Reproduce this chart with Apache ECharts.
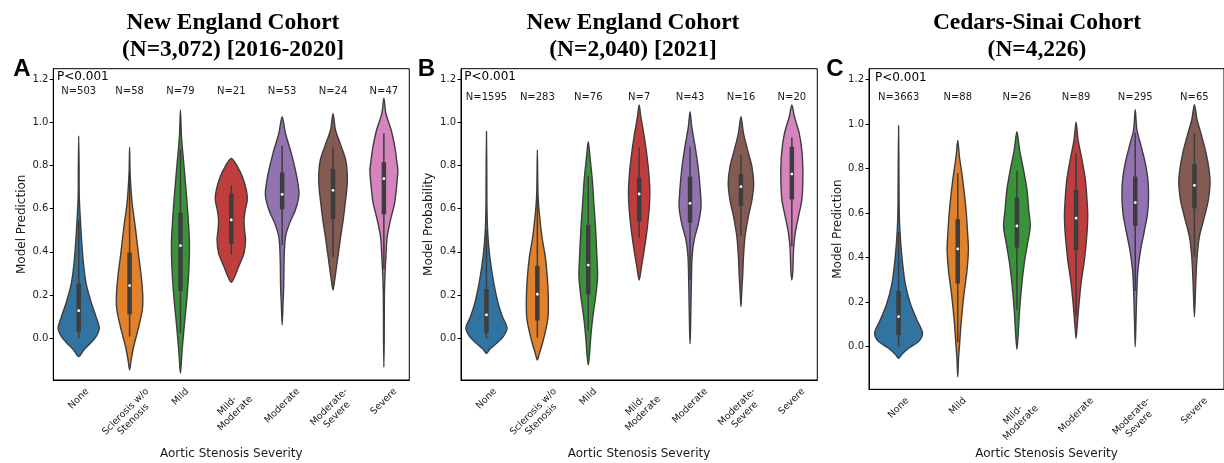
<!DOCTYPE html>
<html>
<head>
<meta charset="utf-8">
<script src="https://cdn.jsdelivr.net/npm/echarts@6.0.0/dist/echarts.min.js"></script>
<style>
  html, body { margin: 0; padding: 0; background: #fff; }
  #main { width: 1224px; height: 463px; }
</style>
</head>
<body>
<div id="main"></div>
<script>
// ---- data ----
const yTicks = [0, 0.2, 0.4, 0.6, 0.8, 1.0, 1.2];

const catsAB = ['None', 'Sclerosis w/o\nStenosis', 'Mild', 'Mild-\nModerate', 'Moderate', 'Moderate-\nSevere', 'Severe'];
const catsC = ['None', 'Mild', 'Mild-\nModerate', 'Moderate', 'Moderate-\nSevere', 'Severe'];

const countsA = [503, 58, 79, 21, 53, 24, 47];
const countsB = [1595, 283, 76, 7, 43, 16, 20];
const countsC = [3663, 88, 26, 89, 295, 65];

// inner box: [lower whisker, q1, median, q3, upper whisker]
const boxA = [
  [0.0, 0.031, 0.128, 0.254, 0.55],
  [0.008, 0.111, 0.244, 0.397, 0.75],
  [0.024, 0.219, 0.429, 0.581, 0.876],
  [0.386, 0.437, 0.548, 0.671, 0.709],
  [0.432, 0.597, 0.666, 0.768, 0.89],
  [0.378, 0.552, 0.685, 0.784, 0.884],
  [0.321, 0.574, 0.739, 0.815, 0.949]
];
const boxB = [
  [0.0, 0.026, 0.108, 0.228, 0.5],
  [0.003, 0.082, 0.204, 0.335, 0.65],
  [0.035, 0.204, 0.339, 0.525, 0.751],
  [0.466, 0.54, 0.668, 0.745, 0.883],
  [0.27, 0.535, 0.625, 0.748, 0.887],
  [0.474, 0.612, 0.702, 0.76, 0.849],
  [0.424, 0.643, 0.76, 0.887, 0.93]
];
const boxC = [
  [0.0, 0.052, 0.135, 0.25, 0.516],
  [0.02, 0.284, 0.439, 0.572, 0.779],
  [0.165, 0.446, 0.542, 0.669, 0.79],
  [0.135, 0.434, 0.577, 0.704, 0.869],
  [0.25, 0.542, 0.647, 0.764, 0.96],
  [0.404, 0.621, 0.724, 0.82, 0.959]
];

// violin outlines: [value, half width as share of the category band], top to bottom
const densityA = [
  [[0.937, 0], [0.8, 0.007], [0.66, 0.01], [0.547, 0.033], [0.378, 0.08], [0.254, 0.145], [0.162, 0.25], [0.1, 0.34], [0.046, 0.405], [0.008, 0.34], [-0.023, 0.23], [-0.054, 0.1], [-0.085, 0]],
  [[0.884, 0], [0.78, 0.008], [0.7, 0.025], [0.625, 0.05], [0.5, 0.12], [0.378, 0.18], [0.285, 0.23], [0.193, 0.26], [0.131, 0.25], [0.039, 0.165], [-0.038, 0.08], [-0.1, 0.03], [-0.147, 0]],
  [[1.057, 0], [0.933, 0.02], [0.81, 0.065], [0.686, 0.11], [0.563, 0.15], [0.44, 0.177], [0.316, 0.165], [0.193, 0.13], [0.07, 0.08], [-0.054, 0.033], [-0.162, 0]],
  [[0.833, 0], [0.795, 0.12], [0.749, 0.216], [0.687, 0.295], [0.641, 0.315], [0.594, 0.275], [0.548, 0.25], [0.502, 0.26], [0.456, 0.28], [0.394, 0.25], [0.332, 0.145], [0.285, 0.065], [0.259, 0]],
  [[1.026, 0], [0.949, 0.065], [0.856, 0.18], [0.779, 0.26], [0.717, 0.31], [0.663, 0.33], [0.594, 0.26], [0.532, 0.145], [0.47, 0.065], [0.378, 0.04], [0.239, 0.03], [0.162, 0.017], [0.062, 0]],
  [[1.04, 0], [0.963, 0.05], [0.886, 0.165], [0.825, 0.25], [0.763, 0.28], [0.702, 0.275], [0.625, 0.24], [0.548, 0.2], [0.47, 0.15], [0.393, 0.105], [0.316, 0.06], [0.27, 0.033], [0.224, 0]],
  [[1.111, 0], [1.041, 0.04], [0.963, 0.145], [0.886, 0.215], [0.809, 0.26], [0.779, 0.275], [0.702, 0.25], [0.625, 0.21], [0.548, 0.13], [0.47, 0.065], [0.378, 0.04], [0.285, 0.02], [0.2, 0.01], [0.0, 0.007], [-0.134, 0]]
];
const densityB = [
  [[0.957, 0], [0.75, 0.007], [0.6, 0.01], [0.486, 0.026], [0.378, 0.065], [0.254, 0.145], [0.162, 0.23], [0.1, 0.315], [0.046, 0.405], [0.008, 0.33], [-0.023, 0.2], [-0.051, 0.065], [-0.07, 0]],
  [[0.872, 0], [0.72, 0.008], [0.656, 0.015], [0.594, 0.033], [0.47, 0.09], [0.378, 0.155], [0.285, 0.195], [0.193, 0.215], [0.1, 0.21], [0.039, 0.165], [-0.023, 0.1], [-0.07, 0.04], [-0.1, 0]],
  [[0.91, 0], [0.841, 0.033], [0.733, 0.08], [0.625, 0.11], [0.502, 0.145], [0.378, 0.17], [0.285, 0.183], [0.193, 0.145], [0.1, 0.09], [0.008, 0.05], [-0.07, 0.026], [-0.124, 0]],
  [[1.08, 0], [1.026, 0.033], [0.934, 0.1], [0.841, 0.155], [0.749, 0.195], [0.671, 0.21], [0.594, 0.195], [0.502, 0.155], [0.409, 0.1], [0.332, 0.046], [0.27, 0]],
  [[1.049, 0], [0.98, 0.033], [0.887, 0.1], [0.779, 0.165], [0.687, 0.2], [0.61, 0.215], [0.532, 0.165], [0.455, 0.08], [0.378, 0.04], [0.254, 0.026], [0.131, 0.016], [0.03, 0.008], [-0.026, 0]],
  [[1.026, 0], [0.949, 0.05], [0.872, 0.13], [0.795, 0.215], [0.717, 0.25], [0.64, 0.215], [0.563, 0.145], [0.47, 0.08], [0.378, 0.05], [0.285, 0.033], [0.208, 0.014], [0.147, 0]],
  [[1.08, 0], [1.026, 0.05], [0.949, 0.145], [0.872, 0.195], [0.795, 0.215], [0.717, 0.215], [0.64, 0.195], [0.563, 0.13], [0.486, 0.065], [0.409, 0.033], [0.316, 0.02], [0.27, 0]]
];
const densityC = [
  [[0.992, 0], [0.75, 0.007], [0.629, 0.01], [0.524, 0.022], [0.404, 0.056], [0.284, 0.112], [0.195, 0.197], [0.12, 0.31], [0.06, 0.405], [0.023, 0.337], [-0.007, 0.17], [-0.037, 0.045], [-0.052, 0]],
  [[0.926, 0], [0.854, 0.028], [0.749, 0.084], [0.614, 0.14], [0.494, 0.17], [0.434, 0.18], [0.344, 0.157], [0.225, 0.1], [0.105, 0.056], [0.0, 0.028], [-0.06, 0.012], [-0.135, 0]],
  [[0.965, 0], [0.884, 0.045], [0.794, 0.112], [0.704, 0.17], [0.614, 0.2], [0.539, 0.225], [0.464, 0.18], [0.374, 0.124], [0.284, 0.084], [0.164, 0.045], [0.06, 0.022], [-0.012, 0]],
  [[1.008, 0], [0.929, 0.034], [0.839, 0.1], [0.749, 0.157], [0.659, 0.185], [0.584, 0.197], [0.494, 0.18], [0.389, 0.14], [0.284, 0.084], [0.18, 0.045], [0.105, 0.022], [0.038, 0]],
  [[1.064, 0], [0.974, 0.028], [0.899, 0.1], [0.824, 0.17], [0.749, 0.214], [0.674, 0.225], [0.599, 0.208], [0.524, 0.157], [0.434, 0.09], [0.344, 0.045], [0.255, 0.028], [0.135, 0.014], [0.0, 0]],
  [[1.086, 0], [1.019, 0.045], [0.944, 0.124], [0.869, 0.197], [0.794, 0.247], [0.734, 0.264], [0.659, 0.236], [0.584, 0.17], [0.494, 0.084], [0.404, 0.045], [0.284, 0.022], [0.135, 0]]
];

const palette = ['#3274a1', '#e1812c', '#3a923a', '#c03d3e', '#9372b2', '#845b53', '#d684bd'];
const edge = '#3d3d3d';
const ink = '#1a1a1a';
const sans = '"DejaVu Sans", sans-serif';

const panels = [
  { cats: catsAB, counts: countsA, box: boxA, density: densityA, nAt: 1.1435, yMin: -0.193, yMax: 1.248,
    grid: { left: 53.3, top: 68.7, width: 356, height: 311.3 } },
  { cats: catsAB, counts: countsB, box: boxB, density: densityB, nAt: 1.114, yMin: -0.193, yMax: 1.248,
    grid: { left: 461, top: 68.7, width: 356.3, height: 311.3 } },
  { cats: catsC, counts: countsC, box: boxC, density: densityC, nAt: 1.12, yMin: -0.191, yMax: 1.248,
    grid: { left: 869, top: 68.7, width: 355, height: 320.6 } }
];

// text measuring for the rotated tick labels (matplotlib-style centred box)
const measureCtx = document.createElement('canvas').getContext('2d');
const tickFont = 9.5, tickLine = 11;
measureCtx.font = tickFont + 'px "DejaVu Sans"';

function makeRender(p) {
  return function (params, api) {
    const i = api.value(0);
    const band = api.size([1, 0])[0];
    const cx = api.coord([i, 0])[0];
    const prof = p.density[i];
    const right = [], left = [];
    prof.forEach(function (d) {
      const y = api.coord([i, d[0]])[1];
      right.push([cx + d[1] * band, y]);
      left.push([cx - d[1] * band, y]);
    });
    const pts = right.concat(left.slice(1, -1).reverse());
    const b = p.box[i].map(function (v) { return api.coord([i, v])[1]; });

    const cs = params.coordSys;
    const lines = p.cats[i].split('\n');
    const w = Math.max.apply(null, lines.map(function (s) { return measureCtx.measureText(s).width; }));
    const h = lines.length * tickLine;
    const rotH = (w + h) * Math.SQRT1_2;
    const labelY = cs.y + cs.height + 6 + rotH / 2;

    return {
      type: 'group',
      children: [
        { type: 'polygon', shape: { points: pts, smooth: 0.3 },
          style: { fill: palette[i], stroke: edge, lineWidth: 1.4 } },
        { type: 'line', shape: { x1: cx, y1: b[0], x2: cx, y2: b[4] },
          style: { stroke: edge, lineWidth: 1.5 } },
        { type: 'line', shape: { x1: cx, y1: b[1], x2: cx, y2: b[3] },
          style: { stroke: edge, lineWidth: 4.5, lineCap: 'butt' } },
        { type: 'circle', shape: { cx: cx, cy: b[2], r: 1.4 }, style: { fill: '#fff' } },
        { type: 'text', x: cx, y: api.coord([i, p.nAt])[1],
          style: { text: 'N=' + p.counts[i], fontSize: 10, fontFamily: sans, fill: ink,
                   align: 'center', verticalAlign: 'middle' } },
        { type: 'text', x: cx, y: labelY, rotation: Math.PI / 4,
          style: { text: p.cats[i], fontSize: tickFont, lineHeight: tickLine, fontFamily: sans,
                   fill: ink, align: 'center', verticalAlign: 'middle' } }
      ]
    };
  };
}

const chart = echarts.init(document.getElementById('main'));

const titles = [
  { x: 233, text: 'New England Cohort\n(N=3,072) [2016-2020]' },
  { x: 633, text: 'New England Cohort\n(N=2,040) [2021]' },
  { x: 1037, text: 'Cedars-Sinai Cohort\n(N=4,226)' }
];
const letters = [{ x: 22, t: 'A' }, { x: 426.5, t: 'B' }, { x: 835, t: 'C' }];
const yNames = [
  { x: 21.5, y: 224.3, t: 'Model Prediction' },
  { x: 428.5, y: 224.3, t: 'Model Probability' },
  { x: 837.5, y: 229, t: 'Model Prediction' }
];
const xNames = [{ x: 231.3, y: 453.5 }, { x: 639, y: 453.5 }, { x: 1046.5, y: 453.5 }];
const pPos = [{ x: 57, y: 76.7 }, { x: 464.3, y: 76.7 }, { x: 875, y: 77.7 }];

const graphic = [];
titles.forEach(function (t) {
  graphic.push({ type: 'text', x: t.x, y: 36.5,
    style: { text: t.text, fontSize: 23.5, lineHeight: 27, fontWeight: 'bold', fontFamily: '"Liberation Serif", serif',
             fill: '#000', align: 'center', verticalAlign: 'middle' } });
});
letters.forEach(function (l) {
  graphic.push({ type: 'text', x: l.x, y: 69.5,
    style: { text: l.t, fontSize: 24, fontWeight: 'bold', fontFamily: '"Liberation Sans", sans-serif',
             fill: '#000', align: 'center', verticalAlign: 'middle' } });
});
yNames.forEach(function (n) {
  graphic.push({ type: 'text', x: n.x, y: n.y, rotation: Math.PI / 2,
    style: { text: n.t, fontSize: 12, fontFamily: sans, fill: ink, align: 'center', verticalAlign: 'middle' } });
});
xNames.forEach(function (n) {
  graphic.push({ type: 'text', x: n.x, y: n.y,
    style: { text: 'Aortic Stenosis Severity', fontSize: 12, fontFamily: sans, fill: ink,
             align: 'center', verticalAlign: 'middle' } });
});
pPos.forEach(function (q) {
  graphic.push({ type: 'text', x: q.x, y: q.y,
    style: { text: 'P<0.001', fontSize: 12, fontFamily: sans, fill: '#000', align: 'left', verticalAlign: 'middle' } });
});

const option = {
  animation: false,
  backgroundColor: '#fff',
  grid: panels.map(function (p) {
    return Object.assign({ show: true, borderColor: '#000', borderWidth: 1, backgroundColor: 'transparent' }, p.grid);
  }),
  xAxis: panels.map(function (p, k) {
    return {
      type: 'category', gridIndex: k, data: p.cats, boundaryGap: true,
      axisLine: { onZero: false, lineStyle: { color: '#000', width: 1 } },
      axisTick: { alignWithLabel: true, length: 3.5, lineStyle: { color: '#000' } },
      axisLabel: { show: false },
      splitLine: { show: false }
    };
  }),
  yAxis: panels.map(function (p, k) {
    return {
      type: 'value', gridIndex: k, min: p.yMin, max: p.yMax,
      axisLine: { show: true, onZero: false, lineStyle: { color: '#000', width: 1 } },
      axisTick: { show: true, length: 3.5, customValues: yTicks, lineStyle: { color: '#000' } },
      axisLabel: { customValues: yTicks, formatter: function (v) { return v.toFixed(1); },
                   fontSize: 10, fontFamily: sans, color: ink, margin: 5 },
      splitLine: { show: false }
    };
  }),
  graphic: graphic,
  series: panels.map(function (p, k) {
    return {
      type: 'custom', xAxisIndex: k, yAxisIndex: k, clip: false,
      renderItem: makeRender(p),
      data: p.cats.map(function (c, i) { return [i, 0]; })
    };
  })
};

chart.setOption(option);
</script>
</body>
</html>
